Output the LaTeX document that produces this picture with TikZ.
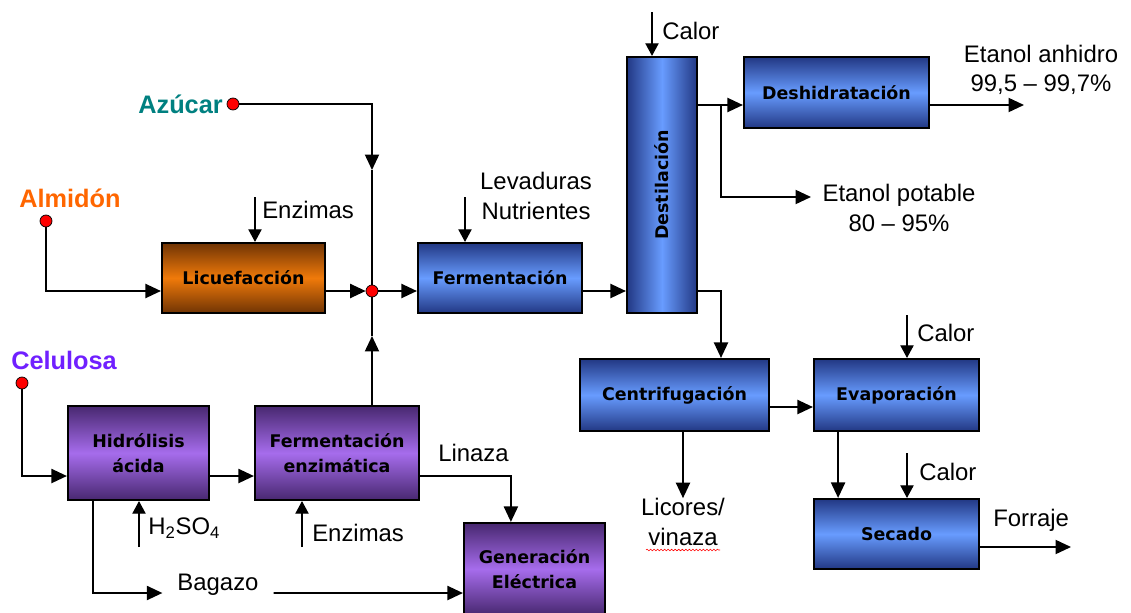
\documentclass[tikz,border=0pt]{standalone}
\usepackage{fontspec}
\setmainfont{Liberation Sans}
\newfontfamily\boxfont{DejaVu Sans}
\usetikzlibrary{positioning}
\usetikzlibrary{arrows.meta}
\usetikzlibrary{decorations.pathmorphing}

\definecolor{blueDark}{RGB}{34,56,132}
\definecolor{blueLight}{RGB}{104,156,255}
\definecolor{orangeDark}{RGB}{112,52,4}
\definecolor{orangeLight}{RGB}{240,122,10}
\definecolor{purpleDark}{RGB}{72,40,112}
\definecolor{purpleLight}{RGB}{166,108,236}
\definecolor{azucarColor}{RGB}{0,128,128}
\definecolor{almidonColor}{RGB}{255,102,0}
\definecolor{celulosaColor}{RGB}{112,32,255}

\begin{document}
\begin{tikzpicture}[x=0.025cm, y=-0.025cm,
    box/.style={draw, line width=1.5pt, inner sep=0pt, align=center,
        font=\boxfont\bfseries\fontsize{12.4}{18}\selectfont},
    bluebox/.style={box, top color=blueDark, bottom color=blueDark, middle color=blueLight},
    orangebox/.style={box, top color=orangeDark, bottom color=orangeDark, middle color=orangeLight},
    purplebox/.style={box, top color=purpleDark, bottom color=purpleDark, middle color=purpleLight},
    lbl/.style={font=\fontsize{17}{21}\selectfont, align=center, inner sep=0pt},
    src/.style={font=\bfseries\fontsize{18}{21}\selectfont, inner sep=0pt},
    dot/.style={circle, draw, line width=0.5pt, fill=red, inner sep=0pt, minimum size=0.3cm},
    flow/.style={line width=1.3pt, -{Triangle[length=11pt,width=10pt]}},
    feed/.style={line width=0.8pt, -{Triangle[length=9pt,width=9.5pt]}},
    pipe/.style={line width=1.3pt}
]
    \useasboundingbox (0,0) rectangle (1131,612);

    % Licuefaccion
    \node[orangebox, minimum width=4.075cm, minimum height=1.75cm] (lic) at (243.5,278) {Licuefacción};
    % Fermentacion
    \node[bluebox, minimum width=4.1cm, minimum height=1.75cm] (ferm) at (500,278) {Fermentación};
    % Destilacion (column)
    \node[box, left color=blueDark, right color=blueDark, middle color=blueLight,
        minimum width=1.75cm, minimum height=6.4cm] (dest) at (662,185) {\rotatebox{90}{Destilación}};
    % Deshidratacion
    \node[bluebox, minimum width=4.625cm, minimum height=1.775cm] (desh) at (836.5,92.5) {Deshidratación};
    % Centrifugacion
    \node[bluebox, minimum width=4.725cm, minimum height=1.8cm] (centr) at (674.5,395) {Centrifugación};
    % Evaporacion
    \node[bluebox, minimum width=4.125cm, minimum height=1.8cm] (evap) at (896.5,395) {Evaporación};
    % Secado
    \node[bluebox, minimum width=4.125cm, minimum height=1.75cm] (sec) at (896.5,534) {Secado};
    % Hidrolisis acida
    \node[purplebox, minimum width=3.525cm, minimum height=2.35cm] (hid) at (138.5,453) {Hidrólisis\\ácida};
    % Fermentacion enzimatica
    \node[purplebox, minimum width=4.1cm, minimum height=2.35cm] (fenz) at (337,453) {Fermentación\\enzimática};
    % Generacion electrica
    \node[purplebox, minimum width=3.525cm, minimum height=2.3cm] (gen) at (534.5,569) {Generación\\Eléctrica};

    % Raw materials
    \node[src, text=azucarColor, anchor=east] (azucar) at (223,104) {Azúcar};
    \node[dot] (azucarDot) at (233,104) {};
    \node[src, text=almidonColor] (almidon) at (70,198) {Almidón};
    \node[dot] (almidonDot) at (46,221) {};
    \node[src, text=celulosaColor] (celulosa) at (64,360) {Celulosa};
    \node[dot] (celulosaDot) at (22,383) {};
    \node[dot] (mix) at (372,291) {};

    % Labels
    \node[lbl, anchor=west] (enz1) at (262,210) {Enzimas};
    \node[lbl] (lev) at (536,196) {Levaduras\\Nutrientes};
    \node[lbl, anchor=west] (calor1) at (662,31) {Calor};
    \node[lbl] (anhidro) at (1041,70) {Etanol anhidro\\99,5 – 99,7\%};
    \node[lbl] (potable) at (899,208) {Etanol potable\\80 – 95\%};
    \node[lbl] (licores) at (683,522) {Licores/\\vinaza};
    \node[lbl, anchor=west] (calor2) at (917,333) {Calor};
    \node[lbl, anchor=west] (calor3) at (919,472) {Calor};
    \node[lbl, anchor=west] (forraje) at (993,520) {Forraje};
    \node[lbl, anchor=west] (linaza) at (438,453) {Linaza};
    \node[lbl, anchor=west] (h2so4) at (148,528) {H\textsubscript{2}SO\textsubscript{4}};
    \node[lbl, anchor=west] (enz2) at (312,533) {Enzimas};
    \node[lbl, inner xsep=0.37cm] (bagazo) at (218,585) {Bagazo};

    % Free ends
    \coordinate (azTip) at (372,170);
    \coordinate (upTip) at (372,336);
    \coordinate (split) at (721,105);
    \coordinate (potIn) at (811,197);
    \coordinate (anhOut) at (1024,105);
    \coordinate (forrajeOut) at (1071,547);
    \coordinate (enz1In) at (255,197);
    \coordinate (levIn) at (465,197);
    \coordinate (calor1In) at (652,12);
    \coordinate (calor2In) at (907,315);
    \coordinate (calor3In) at (907,453);
    \coordinate (h2In) at (139,547);
    \coordinate (enz2In) at (302,547);

    % Main flows
    \draw[flow] (almidonDot) |- (lic.west |- mix);
    \draw[flow] (lic.east |- mix) -- (mix.west);
    \draw[flow] (mix.east) -- (ferm.west |- mix);
    \draw[flow] (azucarDot) -| (azTip);
    \draw[pipe] (azTip) -- (mix.north);
    \draw[flow] (fenz.north -| mix) -- (upTip);
    \draw[pipe] (upTip) -- (mix.south);
    \draw[flow] (ferm.east |- mix) -- (dest.west |- mix);
    \draw[flow] (dest.east |- split) -- (desh.west |- split);
    \draw[flow] (split) |- (potIn);
    \draw[flow] (desh.east |- split) -- (anhOut);
    \draw[flow] (dest.east |- mix) -| (centr.north -| split);
    \draw[flow] ([yshift=-0.3cm]centr.east) -- ([yshift=-0.3cm]evap.west);
    \draw[flow] (centr.south -| licores) -- (licores.north);
    \draw[flow] ([xshift=-1.46cm]evap.south) -- ([xshift=-1.46cm]sec.north);
    \draw[flow] ([yshift=-0.325cm]sec.east) -- (forrajeOut);
    \draw[flow] (celulosaDot) |- ([yshift=-0.575cm]hid.west);
    \draw[flow] ([yshift=-0.575cm]hid.east) -- ([yshift=-0.575cm]fenz.west);
    \draw[flow] ([yshift=-0.575cm]fenz.east) -| ([xshift=-0.59cm]gen.north);
    \draw[flow] ([xshift=-1.14cm]hid.south) |- ([yshift=-0.2cm]bagazo.west);
    \draw[flow] ([yshift=-0.2cm]bagazo.east) -- ([yshift=-0.6cm]gen.west);

    % Inputs
    \draw[feed] (enz1In) -- (lic.north -| enz1In);
    \draw[feed] (levIn) -- (ferm.north -| levIn);
    \draw[feed] (calor1In) -- (dest.north -| calor1In);
    \draw[feed] (calor2In) -- (evap.north -| calor2In);
    \draw[feed] (calor3In) -- (sec.north -| calor3In);
    \draw[feed] (h2In) -- (hid.south -| h2In);
    \draw[feed] (enz2In) -- (fenz.south -| enz2In);

    % spell-check underline
    \draw[red, line width=0.4pt, decorate, decoration={snake, amplitude=0.6pt, segment length=2.5pt}]
        (646,550) -- (720,550);
\end{tikzpicture}
\end{document}
